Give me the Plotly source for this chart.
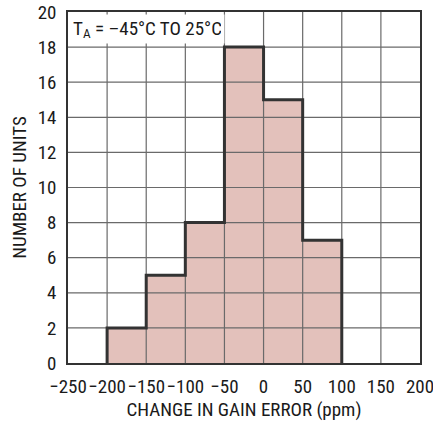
import plotly.graph_objects as go

bin_edges = [-200, -150, -100, -50, 0, 50, 100]
counts = [2, 5, 8, 18, 15, 7]
x_ticks = [-250, -200, -150, -100, -50, 0, 50, 100, 150, 200]
x_tick_labels = ["\u2212250", "\u2212200", "\u2212150", "\u2212100", "\u221250", "0", "50", "100", "150", "200"]
y_ticks = [0, 2, 4, 6, 8, 10, 12, 14, 16, 18, 20]

FONT = "Liberation Sans Narrow, Roboto Condensed, Liberation Sans, Arial, sans-serif"
GRID = "#6a6a6a"
FILL = "#e3c1bb"
EDGE = "#333333"
TXT = "#1a1a1a"
FS = 19

# step outline built from data
sx = [bin_edges[0]] + bin_edges + [bin_edges[-1]]
sy = [0] + counts + [counts[-1], 0]

fig = go.Figure()
fig.add_trace(go.Scatter(x=sx, y=sy, mode="lines", line_shape="hv",
                         line=dict(width=0, color=FILL), fill="tozeroy",
                         fillcolor=FILL, hoverinfo="skip", showlegend=False))

gx, gy = [], []
for t in x_ticks[1:-1]:
    gx += [t, t, None]
    gy += [y_ticks[0], y_ticks[-1], None]
for t in y_ticks[1:-1]:
    gx += [x_ticks[0], x_ticks[-1], None]
    gy += [t, t, None]
fig.add_trace(go.Scatter(x=gx, y=gy, mode="lines", line=dict(width=1.2, color=GRID),
                         hoverinfo="skip", showlegend=False))

fig.add_trace(go.Scatter(x=sx, y=sy, mode="lines", line_shape="hv",
                         line=dict(width=3, color=EDGE), hoverinfo="skip",
                         showlegend=False))

fig.add_annotation(xref="paper", yref="paper", x=0.003, y=0.994,
                   xanchor="left", yanchor="top",
                   text="T<sub>A</sub> = \u201345\u00b0C TO 25\u00b0C",
                   showarrow=False, bgcolor="white", align="left",
                   width=148, height=22, borderpad=3,
                   font=dict(family=FONT, size=FS, color=TXT))

fig.update_xaxes(range=[x_ticks[0], x_ticks[-1]], tickvals=x_ticks, ticktext=x_tick_labels,
                 showgrid=False, zeroline=False, showline=True, linecolor=EDGE,
                 linewidth=1.5, mirror=True, ticks="", ticklabelstandoff=5,
                 tickangle=0, automargin=False, ticklabeloverflow="allow",
                 title=dict(text="CHANGE IN GAIN ERROR (ppm)", standoff=6,
                            font=dict(family=FONT, size=FS, color=TXT)),
                 tickfont=dict(family=FONT, size=FS, color=TXT))
fig.update_yaxes(range=[y_ticks[0], y_ticks[-1]], tickvals=y_ticks,
                 showgrid=False, zeroline=False, showline=True, linecolor=EDGE,
                 linewidth=1.5, mirror=True, ticks="", ticklabelstandoff=6,
                 automargin=False, ticklabeloverflow="allow",
                 title=dict(text="NUMBER OF UNITS", standoff=6,
                            font=dict(family=FONT, size=FS, color=TXT)),
                 tickfont=dict(family=FONT, size=FS, color=TXT))

fig.update_layout(width=433, height=421, margin=dict(l=68, r=13, t=12, b=58),
                  plot_bgcolor="white", paper_bgcolor="white",
                  font=dict(family=FONT, size=FS, color=TXT))

fig.write_html("out.html", config={"displayModeBar": False},
               post_script="document.body.style.margin='0';document.body.style.overflow='hidden';")
